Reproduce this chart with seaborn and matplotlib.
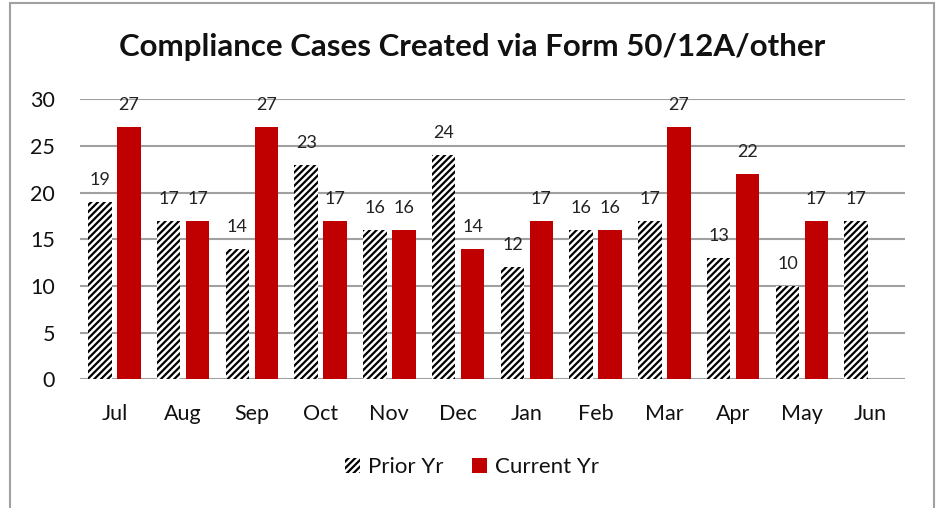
import matplotlib
matplotlib.use("Agg")
import matplotlib.pyplot as plt
import seaborn as sns
import pandas as pd
from matplotlib.patches import Patch, Rectangle

months = ["Jul", "Aug", "Sep", "Oct", "Nov", "Dec", "Jan", "Feb", "Mar", "Apr", "May", "Jun"]
prior_yr = [19, 17, 14, 23, 16, 24, 12, 16, 17, 13, 10, 17]
current_yr = [27, 17, 27, 17, 16, 14, 17, 16, 27, 22, 17, None]
series = ["Prior Yr", "Current Yr"]
colors = {"Prior Yr": "white", "Current Yr": "#C00000"}

rows = []
for m, p, c in zip(months, prior_yr, current_yr):
    rows.append({"Month": m, "Series": "Prior Yr", "Value": p})
    if c is not None:
        rows.append({"Month": m, "Series": "Current Yr", "Value": c})
df = pd.DataFrame(rows)

sns.set_theme(style="white")
plt.rcParams["font.family"] = ["Lato", "DejaVu Sans"]
plt.rcParams["hatch.linewidth"] = 1.6

HATCH = "/////"

fig = plt.figure(figsize=(9.39, 5.08), dpi=100)
ax = fig.add_axes([80 / 939, 1 - 379.3 / 508, 825 / 939, 280 / 508])

sns.barplot(data=df, x="Month", y="Value", hue="Series", order=months,
            hue_order=series, palette=colors, width=0.84, gap=0.19,
            saturation=1, ax=ax, legend=False, linewidth=0, edgecolor="black")

for bar in ax.containers[0]:
    bar.set_hatch(HATCH)
    bar.set_edgecolor("black")
    bar.set_linewidth(0)

for cont in ax.containers:
    ax.bar_label(cont, fmt="%d", padding=10, fontsize=13, color="#222222")

ax.set_ylim(0, 30)
ax.set_xlim(-0.5, 11.5)
ax.set_yticks(range(0, 31, 5))
ax.yaxis.grid(True, color="#A0A0A0", linewidth=1.5)
ax.set_axisbelow(True)
for s in ax.spines.values():
    s.set_visible(False)
ax.tick_params(axis="both", length=0, labelsize=15.5, colors="#111111")
ax.tick_params(axis="x", pad=18)
ax.tick_params(axis="y", pad=18)
ax.set_xlabel("")
ax.set_ylabel("")

fig.text(472 / 939, 1 - 47 / 508, "Compliance Cases Created via Form 50/12A/other",
         ha="center", va="center", fontsize=22.5, fontweight="bold", color="#111111")

handles = [Patch(facecolor="white", edgecolor="black", hatch=HATCH, linewidth=0, label="Prior Yr"),
           Patch(facecolor="#C00000", edgecolor="#C00000", linewidth=0, label="Current Yr")]
fig.legend(handles=handles, loc="center", bbox_to_anchor=(472 / 939, 1 - 467 / 508),
           ncol=2, frameon=False, fontsize=16, handlelength=0.68, handleheight=0.68,
           handletextpad=0.36, columnspacing=1.26, labelcolor="#111111")

fig.patches.append(Rectangle((10 / 939, -0.05), 924 / 939, 1.05 - 3 / 508,
                             transform=fig.transFigure, fill=False,
                             edgecolor="#A0A0A0", linewidth=1.5))

fig.savefig("out.png", dpi=100)
